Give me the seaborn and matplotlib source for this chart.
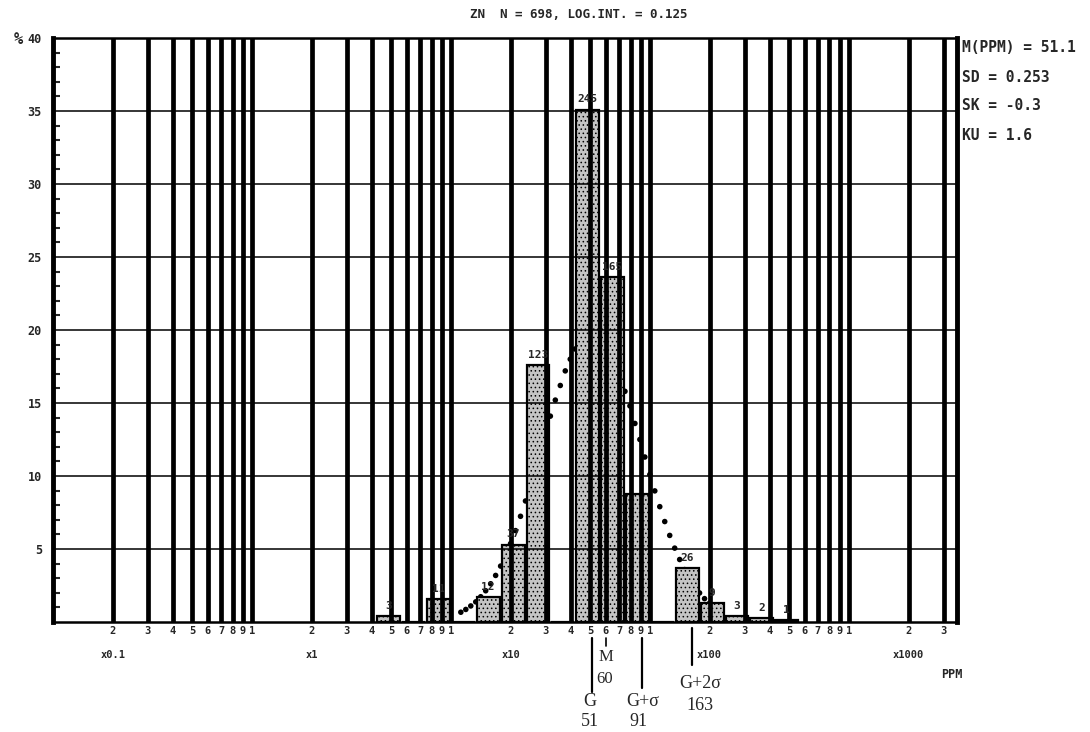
import numpy as np
import pandas as pd
import matplotlib
matplotlib.use('Agg')
import matplotlib.pyplot as plt
import matplotlib.transforms as mtrans
import seaborn as sns

# DATOS
N_TOTAL = 698
LOG_INT = 0.125
bin_lo_log = [0.625, 0.875, 1.125, 1.25, 1.375, 1.625, 1.75, 1.875, 2.125, 2.25, 2.375, 2.5, 2.625]
bin_count = [3, 11, 12, 37, 123, 245, 165, 61, 26, 9, 3, 2, 1]
bin_label = ["3", "11", "12", "37", "123", "245", "165", "", "26", "9", "3", "2", "1"]

# puntos de la curva normal ajustada (log10 ppm, %)
curve_log = [1.050, 1.075, 1.100, 1.125, 1.150, 1.175, 1.200, 1.225, 1.250, 1.275,
             1.300, 1.325, 1.350, 1.375, 1.400, 1.425, 1.450, 1.475, 1.500, 1.525,
             1.550, 1.575, 1.600, 1.625, 1.650, 1.675, 1.700, 1.725, 1.750, 1.775,
             1.800, 1.825, 1.850, 1.875, 1.900, 1.925, 1.950, 1.975, 2.000, 2.025,
             2.050, 2.075, 2.100, 2.125, 2.150, 2.175, 2.200, 2.225, 2.250, 2.275,
             2.300, 2.325, 2.350]
curve_pct = [0.67, 0.86, 1.10, 1.38, 1.73, 2.14, 2.62, 3.19, 3.83, 4.56,
             5.37, 6.26, 7.24, 8.29, 9.39, 10.5, 11.7, 12.9, 14.1, 15.2,
             16.2, 17.2, 18.0, 18.7, 19.2, 19.5, 19.7, 19.7, 19.4, 19.0,
             18.4, 17.7, 16.8, 15.8, 14.8, 13.6, 12.5, 11.3, 10.1, 8.98,
             7.90, 6.88, 5.93, 5.06, 4.28, 3.59, 2.97, 2.44, 1.99, 1.60,
             1.28, 1.01, 0.79]

grid_ppm = [0.2, 0.3, 0.4, 0.5, 0.6, 0.7, 0.8, 0.9, 1,
            2, 3, 4, 5, 6, 7, 8, 9, 10,
            20, 30, 40, 50, 60, 70, 80, 90, 100,
            200, 300, 400, 500, 600, 700, 800, 900, 1000,
            2000, 3000]
grid_lbl = ["2", "3", "4", "5", "6", "7", "8", "9", "1"] * 4 + ["2", "3"]
decade_ppm = [0.2, 2, 20, 200, 2000]
decade_lbl = ["x0.1", "x1", "x10", "x100", "x1000"]
y_ticks = [5, 10, 15, 20, 25, 30, 35, 40]

stats_txt = ["M(PPM) = 51.1", "SD = 0.253", "SK = -0.3", "KU = 1.6"]

# marcas bajo el eje: G, G+sigma, G+2sigma (ppm) y M
marks_ppm = [51, 91, 163]
mean_ppm = 60

df = pd.DataFrame({
    "ppm": [10 ** (l + LOG_INT / 2) for l in bin_lo_log],
    "pct": [c / N_TOTAL * 100 for c in bin_count],
})

sns.set_theme(style="white")
plt.rcParams['font.family'] = ['DejaVu Sans Mono', 'DejaVu Sans']
plt.rcParams['font.weight'] = 'bold'
plt.rcParams['hatch.linewidth'] = 0.6

W, H = 1090, 732
fig = plt.figure(figsize=(W / 100, H / 100), dpi=100)
ax = fig.add_axes([53 / W, 1 - 622 / H, (957 - 53) / W, (622 - 38) / H])

def fy(py):
    return 1 - py / H

# curva (debajo de las barras)
sns.scatterplot(x=[10 ** v for v in curve_log], y=curve_pct, ax=ax, s=16,
                color="black", edgecolor="none", zorder=1)

sns.histplot(data=df, x="ppm", weights="pct", log_scale=True,
             binwidth=LOG_INT, binrange=(bin_lo_log[0], bin_lo_log[-1] + LOG_INT),
             shrink=0.92, color="#c4c4c4", alpha=1, edgecolor="black", hatch="....",
             linewidth=1.6, ax=ax, zorder=2)

for l, c, t in zip(bin_lo_log, bin_count, bin_label):
    if t:
        ax.text(10 ** (l + LOG_INT / 2), c / N_TOTAL * 100 + 0.35, t,
                ha="center", va="bottom", fontsize=8, fontweight="bold", zorder=6)

for g in grid_ppm:
    ax.axvline(g, color="black", lw=3.4, zorder=4)
for yv in y_ticks[:-1]:
    ax.axhline(yv, color="black", lw=1.1, zorder=4)

ax.set_xscale("log")
ax.set_xlim(0.1, 3500)
ax.set_ylim(0, 40)
ax.set_xlabel("")
ax.set_ylabel("")
ax.set_xticks(grid_ppm)
ax.set_xticklabels(grid_lbl, fontsize=7.5, fontweight="bold")
ax.xaxis.set_minor_locator(matplotlib.ticker.NullLocator())
ax.tick_params(axis="x", length=0, pad=3)
ax.set_yticks(y_ticks)
ax.set_yticklabels([str(v) for v in y_ticks], fontsize=8.5, fontweight="bold")
ax.set_yticks(range(1, 40), minor=True)
ax.tick_params(axis="y", which="major", length=0, pad=8)
ax.tick_params(axis="y", which="minor", direction="in", length=5, width=1.5, left=True)
for side, lw in [("left", 3.5), ("right", 3.5), ("top", 1.8), ("bottom", 1.8)]:
    ax.spines[side].set_visible(True)
    ax.spines[side].set_color("black")
    ax.spines[side].set_linewidth(lw)

fig.text(14 / W, fy(39), "%", fontsize=11, fontweight="bold", va="center")

bt = mtrans.blended_transform_factory(ax.transData, fig.transFigure)
for p, t in zip(decade_ppm, decade_lbl):
    fig.text(p, fy(655), t, transform=bt, ha="center", va="center", fontsize=7.5, fontweight="bold")
fig.text(952 / W, fy(675), "PPM", ha="center", va="center", fontsize=8.5, fontweight="bold")

fig.text(579 / W, fy(15), "ZN  N = 698, LOG.INT. = 0.125", ha="center", va="center",
         fontsize=9, fontweight="bold")
for i, s in enumerate(stats_txt):
    fig.text(962 / W, fy(48 + 29 * i), s, ha="left", va="center", fontsize=10.5, fontweight="bold")

# marcas G, M, G+sigma, G+2sigma
serif = ["Liberation Serif", "DejaVu Serif"]
ax.add_line(plt.Line2D([marks_ppm[0], marks_ppm[0]], [fy(638), fy(692)], transform=bt,
                       color="black", lw=1.6, clip_on=False))
ax.add_line(plt.Line2D([mean_ppm, mean_ppm], [fy(638), fy(646)], transform=bt,
                       color="black", lw=1.2, clip_on=False))
ax.add_line(plt.Line2D([marks_ppm[1], marks_ppm[1]], [fy(638), fy(688)], transform=bt,
                       color="black", lw=1.6, clip_on=False))
ax.add_line(plt.Line2D([marks_ppm[2], marks_ppm[2]], [fy(628), fy(665)], transform=bt,
                       color="black", lw=1.6, clip_on=False))
fig.text(55, fy(657), "M", transform=bt, ha="left", va="center", fontsize=12,
         family=serif, fontweight="normal")
fig.text(54, fy(679), "60", transform=bt, ha="left", va="center", fontsize=12,
         family=serif, fontweight="normal")
fig.text(50, fy(701), "G", transform=bt, ha="center", va="center", fontsize=13,
         family=serif, fontweight="normal")
fig.text(50, fy(722), "51", transform=bt, ha="center", va="center", fontsize=13,
         family=serif, fontweight="normal")
fig.text(92, fy(701), "G+σ", transform=bt, ha="center", va="center", fontsize=13,
         family=serif, fontweight="normal")
fig.text(88, fy(722), "91", transform=bt, ha="center", va="center", fontsize=13,
         family=serif, fontweight="normal")
fig.text(180, fy(683), "G+2σ", transform=bt, ha="center", va="center", fontsize=13,
         family=serif, fontweight="normal")
fig.text(178, fy(705), "163", transform=bt, ha="center", va="center", fontsize=13,
         family=serif, fontweight="normal")

fig.savefig("out.png", dpi=100, facecolor="white")
plt.close(fig)
